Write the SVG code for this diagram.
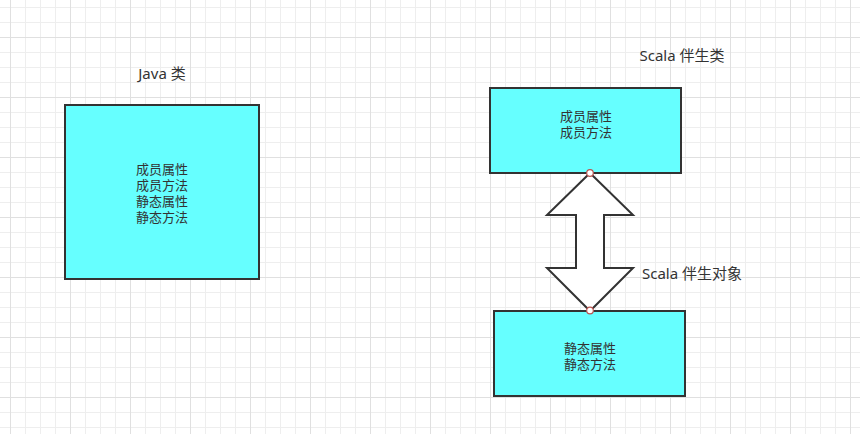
<svg xmlns="http://www.w3.org/2000/svg" width="860" height="434" viewBox="0 0 860 434">
  <style>
    text { font-family: "Noto Sans", "Noto Sans CJK SC", sans-serif; fill: #333333; text-anchor: middle; dominant-baseline: central; }
    .lbl { font-size: 15px; }
    .in { font-size: 13px; }
    .box { fill: #66FFFF; stroke: #333333; stroke-width: 2; }
    .minor { stroke: #eeeeee; stroke-width: 1; }
    .major { stroke: #e0e0e0; stroke-width: 1; }
    .pt { fill: #ffffff; stroke: #b85450; stroke-width: 1.2; }
  </style>
  <defs>
    <pattern id="grid" patternUnits="userSpaceOnUse" x="10" y="37" width="60" height="60">
      <rect width="60" height="60" fill="#ffffff"/>
      <path class="minor" d="M15.5 0V60M30.5 0V60M45.5 0V60M0 15.5H60M0 30.5H60M0 45.5H60"/>
      <path class="major" d="M0.5 0V60M0 0.5H60"/>
    </pattern>
  </defs>
  <rect width="860" height="434" fill="url(#grid)"/>

  <g id="java-label">
    <text class="lbl" x="162" y="73">Java 类</text>
  </g>
  <g id="java-class">
    <rect class="box" x="65" y="105" width="194" height="174"/>
    <text class="in" x="162" y="169">成员属性</text>
    <text class="in" x="162" y="185">成员方法</text>
    <text class="in" x="162" y="201">静态属性</text>
    <text class="in" x="162" y="217">静态方法</text>
  </g>

  <g id="scala-class-label">
    <text class="lbl" x="682" y="55">Scala 伴生类</text>
  </g>
  <g id="scala-class">
    <rect class="box" x="490" y="88" width="191" height="85"/>
    <text class="in" x="586" y="116">成员属性</text>
    <text class="in" x="586" y="132">成员方法</text>
  </g>

  <g id="scala-object">
    <rect class="box" x="494" y="311" width="191" height="85"/>
    <text class="in" x="590" y="348">静态属性</text>
    <text class="in" x="590" y="364">静态方法</text>
  </g>
  <g id="scala-object-label">
    <text class="lbl" x="692" y="273">Scala 伴生对象</text>
  </g>

  <g id="connectors">
    <polygon points="590,173 633,215 604,215 604,268 633,268 590,311 547,268 576,268 576,215 547,215" fill="#ffffff" stroke="#333333" stroke-width="2" stroke-linejoin="miter"/>
    <circle class="pt" cx="590" cy="173" r="3.3"/>
    <circle class="pt" cx="590" cy="310.5" r="3.3"/>
  </g>
</svg>
